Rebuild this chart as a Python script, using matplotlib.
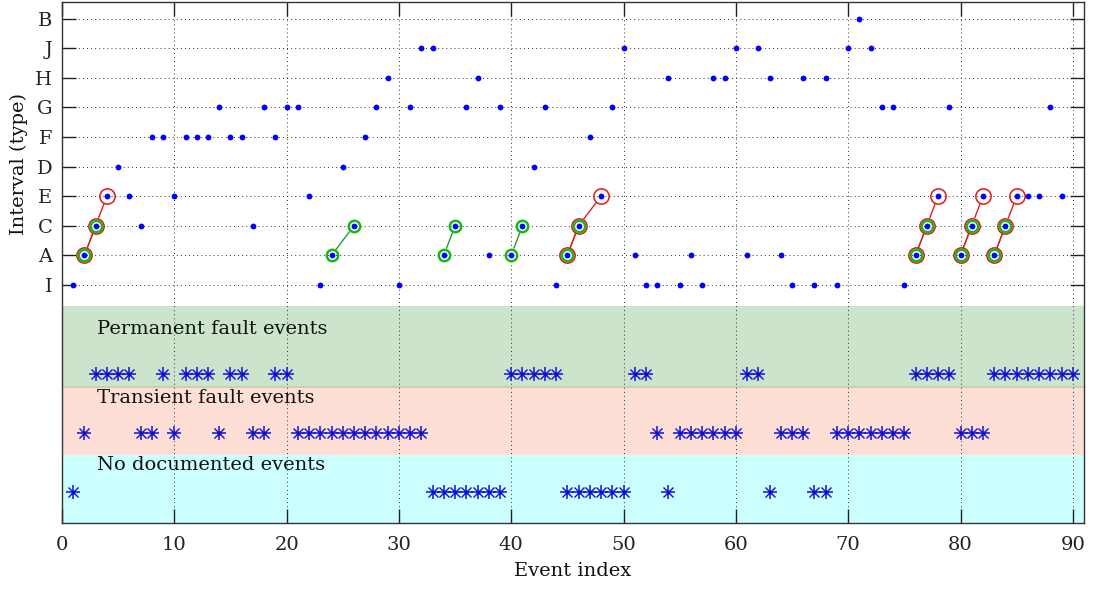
import numpy as np
import matplotlib
matplotlib.use("Agg")
import matplotlib.pyplot as plt

plt.rcParams['font.family'] = ['DejaVu Serif']

# Interval type levels (bottom to top)
levels = ['I', 'A', 'C', 'E', 'D', 'F', 'G', 'H', 'J', 'B']

events = np.arange(1, 91)
interval_type = ['I', 'A', 'C', 'E', 'D', 'E', 'C', 'F', 'F', 'E',
                 'F', 'F', 'F', 'G', 'F', 'F', 'C', 'G', 'F', 'G',
                 'G', 'E', 'I', 'A', 'D', 'C', 'F', 'G', 'H', 'I',
                 'G', 'J', 'J', 'A', 'C', 'G', 'H', 'A', 'G', 'A',
                 'C', 'D', 'G', 'I', 'A', 'C', 'F', 'E', 'G', 'J',
                 'A', 'I', 'I', 'H', 'I', 'A', 'I', 'H', 'H', 'J',
                 'A', 'J', 'H', 'A', 'I', 'H', 'I', 'H', 'I', 'J',
                 'B', 'J', 'G', 'G', 'I', 'A', 'C', 'E', 'G', 'A',
                 'C', 'E', 'A', 'C', 'E', 'E', 'E', 'G', 'E', None]

# Fault class per event: P = permanent, T = transient, N = no documented event
fault_class = ['N', 'T', 'P', 'P', 'P', 'P', 'T', 'T', 'P', 'T',
               'P', 'P', 'P', 'T', 'P', 'P', 'T', 'T', 'P', 'P',
               'T', 'T', 'T', 'T', 'T', 'T', 'T', 'T', 'T', 'T',
               'T', 'T', 'N', 'N', 'N', 'N', 'N', 'N', 'N', 'P',
               'P', 'P', 'P', 'P', 'N', 'N', 'N', 'N', 'N', 'N',
               'P', 'P', 'T', 'N', 'T', 'T', 'T', 'T', 'T', 'T',
               'P', 'P', 'N', 'T', 'T', 'T', 'N', 'N', 'T', 'T',
               'T', 'T', 'T', 'T', 'T', 'P', 'P', 'P', 'P', 'T',
               'T', 'T', 'P', 'P', 'P', 'P', 'P', 'P', 'P', 'P']

# Detected A->C pairs and A->C->E chains (event indices)
green_pairs = [(2, 3), (24, 26), (34, 35), (40, 41), (45, 46),
               (76, 77), (80, 81), (83, 84)]
red_chains = [(2, 3, 4), (45, 46, 48), (76, 77, 78), (80, 81, 82), (83, 84, 85)]

band_names = ['Permanent fault events', 'Transient fault events', 'No documented events']
band_codes = ['P', 'T', 'N']
band_rows = [-3.0, -5.0, -7.0]
band_edges = [(-3.45, -0.7), (-5.75, -3.45), (-8.05, -5.75)]
band_colors = ['#cce4cb', '#fddfd5', '#ccffff']
band_label_y = [-1.48, -3.84, -6.1]

level_of = {k: i for i, k in enumerate(levels)}
yvals = np.array([level_of[t] if t is not None else np.nan for t in interval_type], dtype=float)


def yv(ev):
    return yvals[ev - 1]


fig = plt.figure(figsize=(10.95, 5.89), dpi=100)
ax = fig.add_axes([0.0566, 0.112, 0.9334, 0.884])

ax.set_xlim(0, 91)
ax.set_ylim(-8.05, 9.55)

grid_kw = dict(color='#333333', lw=0.7, ls=(0, (1, 3.2)), zorder=1.5)
for xt in range(0, 91, 10):
    ax.axvline(xt, **grid_kw)
for i in range(len(levels)):
    ax.axhline(i, **grid_kw)

# Fault-class bands
for (lo, hi), c in zip(band_edges, band_colors):
    ax.axhspan(lo, hi, color=c, zorder=1, lw=0)
ax.axhline(band_edges[0][0], color='#c9cfb0', lw=1.4, zorder=1.2)

for name, ly in zip(band_names, band_label_y):
    ax.text(3.1, ly, name, fontsize=14, va='center', ha='left', color='#111111', zorder=4)

# Fault-class events as asterisks
fc = np.array(fault_class)
for code, row in zip(band_codes, band_rows):
    xs = events[fc == code]
    ys = np.full(xs.shape, row)
    ax.plot(xs, ys, ls='none', marker='+', ms=10.5, mew=1.1, color='#1010e0', zorder=5)
    ax.plot(xs, ys, ls='none', marker='x', ms=6.8, mew=1.0, color='#1010e0', zorder=5)
    ax.plot(xs, ys, ls='none', marker='o', ms=3, mew=0, color='#1010c0', zorder=5)

# Connections for detected pairs and chains
for a, b in green_pairs:
    ax.annotate('', xy=(b, yv(b)), xytext=(a, yv(a)),
                arrowprops=dict(arrowstyle='-', color='#2a9a2a', lw=1.0,
                                shrinkA=5.5, shrinkB=5.5), zorder=6)
for chain in red_chains:
    for a, b in zip(chain[:-1], chain[1:]):
        ax.annotate('', xy=(b, yv(b)), xytext=(a, yv(a)),
                    arrowprops=dict(arrowstyle='-', color='#e02020', lw=1.0,
                                    shrinkA=6, shrinkB=6), zorder=6)

red_ev = sorted({e for ch in red_chains for e in ch})
ax.plot(red_ev, [yv(e) for e in red_ev], ls='none', marker='o', ms=11,
        mfc='none', mec='#e01818', mew=1.1, zorder=7)
green_ev = sorted({e for p in green_pairs for e in p})
ax.plot(green_ev, [yv(e) for e in green_ev], ls='none', marker='o', ms=8.2,
        mfc='none', mec='#18b818', mew=1.8, zorder=8)

# Interval type of every event
ax.plot(events, yvals, ls='none', marker='o', ms=4.2, mew=0, color='#0000ff', zorder=9)

ax.set_yticks(range(len(levels)))
ax.set_yticklabels(levels)
ax.set_xticks(range(0, 91, 10))
ax.tick_params(direction='in', length=10, width=1.0, top=True, right=True,
               labelsize=14, colors='#222222', pad=7)
ax.tick_params(axis='x', pad=9)
for s in ax.spines.values():
    s.set_color('#333333')
    s.set_linewidth(1.0)
    s.set_zorder(10)

ax.set_xlabel('Event index', fontsize=14, color='#111111', labelpad=6)
ax.set_ylabel('Interval (type)', fontsize=14, color='#111111')
ax.yaxis.set_label_coords(-0.033, 0.69)

fig.savefig('out.png', dpi=100)
